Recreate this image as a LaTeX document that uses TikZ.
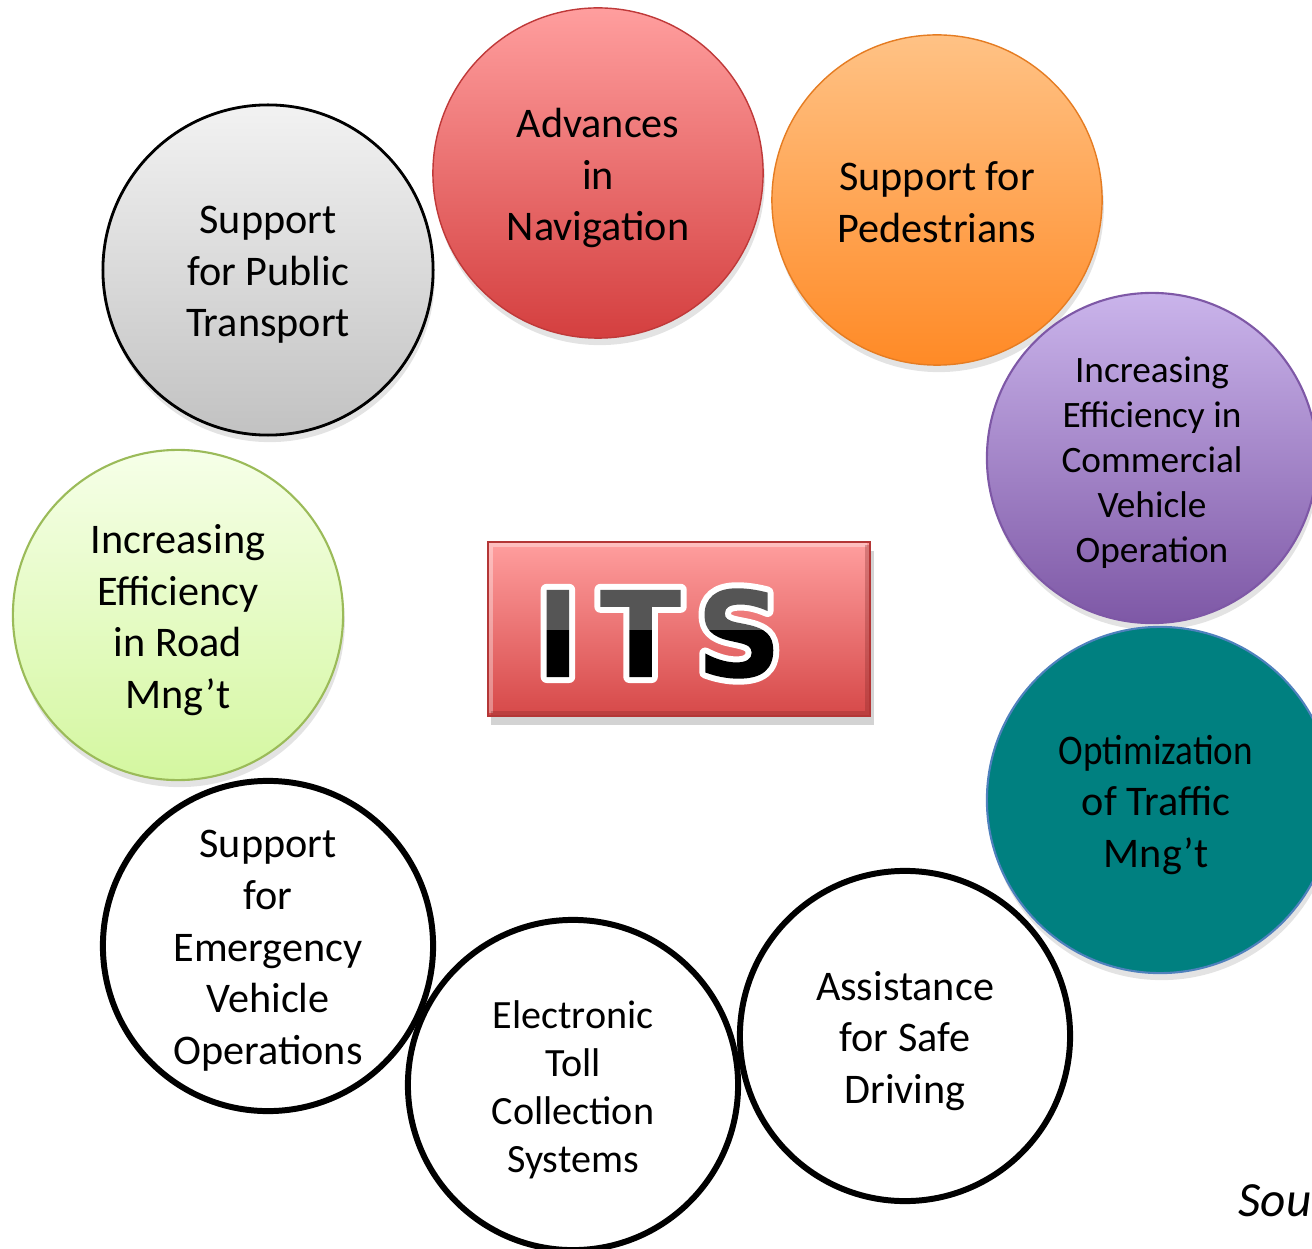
\documentclass[tikz,border=0pt]{standalone}
\usepackage{fontspec}
\setmainfont{Carlito}
\newfontfamily\itsfont{DejaVu Sans}
\usetikzlibrary{shadows}

\definecolor{redtop}{HTML}{FF9E9E}
\definecolor{redbot}{HTML}{D43F3F}
\definecolor{orangetop}{HTML}{FFC285}
\definecolor{orangebot}{HTML}{FF8A26}
\definecolor{purpletop}{HTML}{CAB4EB}
\definecolor{purplebot}{HTML}{7E58A6}
\definecolor{greytop}{HTML}{F2F2F2}
\definecolor{greybot}{HTML}{C2C2C2}
\definecolor{greentop}{HTML}{F6FFE8}
\definecolor{greenbot}{HTML}{D4F7A0}
\definecolor{greenline}{HTML}{9BBB59}
\definecolor{tealfill}{HTML}{008080}
\definecolor{tealline}{HTML}{4F81BD}
\definecolor{lettergrey}{HTML}{555555}

\begin{document}
\begin{tikzpicture}[x=0.01cm, y=-0.01cm,
	bubble/.style={circle, minimum size=3.3cm, inner sep=0pt},
	words/.style={align=center, inner sep=0pt, yshift=-0.05cm, font=\fontsize{12}{14.7}\selectfont},
	shade/.style={drop shadow={opacity=0.22, shadow xshift=0.5pt, shadow yshift=-2pt}},
	ring/.style={bubble, draw=black, line width=1.7pt}]
	\useasboundingbox (0,0) rectangle (1312,1249);
	\clip (0,0) rectangle (1312,1249);

	% coloured circles
	\node[bubble, shade, draw=black, line width=0.8pt, top color=greytop, bottom color=greybot,
		label={[words]center:{Support\\for Public\\Transport}}] (transport) at (268,270) {};
	\node[bubble, shade, draw=redbot!90!black, line width=0.4pt, top color=redtop, bottom color=redbot,
		label={[words]center:{Advances\\in\\Navigation}}] (navigation) at (598,173) {};
	\node[bubble, shade, draw=orangebot!90!black, line width=0.4pt, top color=orangetop, bottom color=orangebot,
		label={[words, yshift=0.03cm]center:{Support for\\Pedestrians}}] (pedestrians) at (937,200) {};
	\node[bubble, shade, draw=purplebot, line width=0.6pt, top color=purpletop, bottom color=purplebot,
		label={[words, font=\fontsize{10.6}{12.8}\selectfont]center:{Increasing\\Efficiency in\\Commercial\\Vehicle\\Operation}}] (commercial) at (1152,458) {};
	\node[bubble, shade, draw=greenline, line width=0.6pt, top color=greentop, bottom color=greenbot,
		label={[words]center:{Increasing\\Efficiency\\in Road\\Mng’t}}] (road) at (178,615) {};

	% plain rings
	\node[ring, label={[words]center:{Support\\for\\Emergency\\Vehicle\\Operations}}] (emergency) at (268,946) {};
	\node[ring, label={[words, font=\fontsize{11.4}{13.7}\selectfont]center:{Electronic\\Toll\\Collection\\Systems}}] (toll) at (573,1085) {};
	\node[ring, label={[words]center:{Assistance\\for Safe\\Driving}}] (safe) at (905,1036) {};

	\node[bubble, shade, minimum size=3.46cm, draw=tealline, line width=0.6pt, fill=tealfill,
		label={[words, xshift=-0.04cm]center:{\scalebox{0.88}[1]{Optimization}\\of Traffic\\Mng’t}}] (traffic) at (1160,800) {};

	% centre box
	\node[draw=redbot!85!black, line width=0.4pt, top color=redtop, bottom color=redbot!95!white,
		minimum width=3.82cm, minimum height=1.74cm, inner sep=0pt,
		drop shadow={opacity=0.35, shadow xshift=1pt, shadow yshift=-2.5pt}] (its) at (679,629) {};
	\draw[white, opacity=0.35, line width=1.2pt] ([shift={(1pt,1pt)}]its.south west) |- ([shift={(-1pt,-1pt)}]its.north east);
	\draw[redbot!60!black, opacity=0.3, line width=1.2pt] ([shift={(1pt,1pt)}]its.south west) -| ([shift={(-1pt,-1pt)}]its.north east);

	% letters: white stroke, then grey/black fill clipped to the glyphs
	\node[anchor=base west, inner sep=0pt, font=\itsfont\bfseries\fontsize{34}{34}\selectfont] (itsword) at (535,677)
		{\special{pdf:literal direct q 1 1 1 RG 3.4 w 1 j 5 Tr}I\hspace{0.197cm}T\hspace{0.145cm}S\special{pdf:literal direct 0 Tr}%
		\llap{\color{lettergrey}\rule[0.47cm]{2.7cm}{0.6cm}}\llap{\color{black}\rule[-0.1cm]{2.7cm}{0.57cm}}%
		\special{pdf:literal direct Q}};

	\node[anchor=base west, inner sep=0pt, font=\itshape\fontsize{14}{14}\selectfont] (source) at (1238,1216) {Sou};
\end{tikzpicture}
\end{document}
